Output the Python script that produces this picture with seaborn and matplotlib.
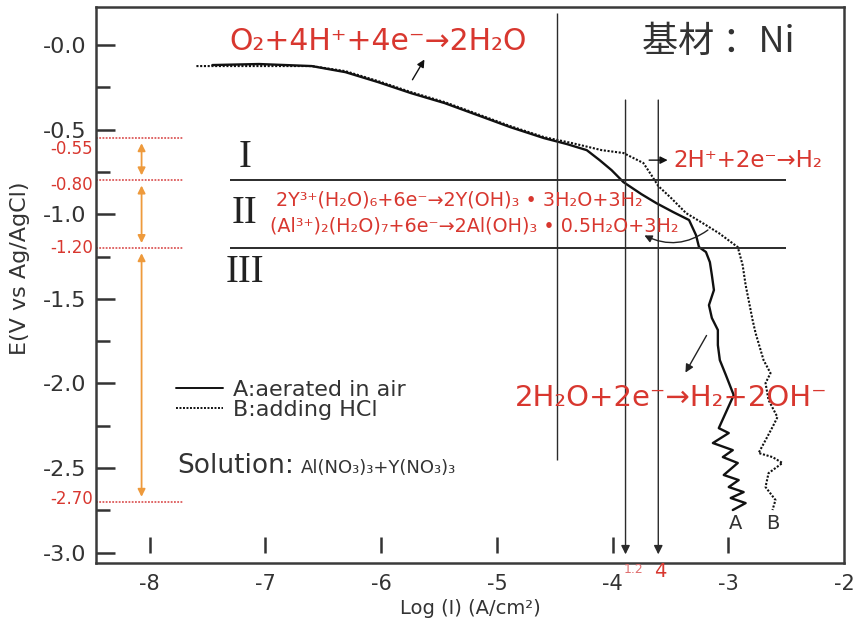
import matplotlib
matplotlib.use("Agg")
import matplotlib.pyplot as plt
import pandas as pd
import seaborn as sns

# Cathodic polarization curve A: aerated in air
a_log_i = [-7.459, -7.056, -6.601, -6.309, -6.026, -5.742, -5.451, -5.167, -4.884,
           -4.592, -4.395, -4.223, -4.112, -4.009, -3.906, -3.751, -3.622, -3.476,
           -3.339, -3.279, -3.253, -3.193, -3.159, -3.142, -3.124, -3.167, -3.142,
           -3.090, -3.090, -3.073, -3.021, -2.953, -3.082, -2.996, -3.133, -2.961,
           -3.047, -2.918, -3.039, -2.910, -2.996, -2.867, -2.979, -2.850, -2.961]
a_potential = [-0.118, -0.112, -0.124, -0.160, -0.219, -0.284, -0.343, -0.414, -0.485,
               -0.550, -0.585, -0.621, -0.680, -0.739, -0.810, -0.881, -0.934, -0.987,
               -1.034, -1.123, -1.194, -1.223, -1.283, -1.359, -1.448, -1.537, -1.613,
               -1.684, -1.773, -1.862, -1.950, -2.069, -2.264, -2.293, -2.352, -2.394,
               -2.435, -2.470, -2.541, -2.571, -2.612, -2.642, -2.677, -2.707, -2.748]

# Cathodic polarization curve B: after adding HCl
b_log_i = [-7.597, -7.227, -6.601, -6.309, -6.026, -5.742, -5.451, -5.167, -4.884,
           -4.592, -4.352, -4.094, -3.906, -3.734, -3.665, -3.605, -3.494, -3.365,
           -3.236, -3.082, -2.918, -2.876, -2.850, -2.824, -2.790, -2.764, -2.695,
           -2.635, -2.678, -2.652, -2.575, -2.618, -2.678, -2.738, -2.618, -2.532,
           -2.652, -2.678, -2.592, -2.618]
b_potential = [-0.124, -0.124, -0.124, -0.154, -0.213, -0.278, -0.337, -0.408, -0.479,
               -0.544, -0.579, -0.621, -0.638, -0.697, -0.768, -0.833, -0.904, -0.993,
               -1.046, -1.111, -1.194, -1.300, -1.418, -1.507, -1.625, -1.702, -1.862,
               -1.939, -1.998, -2.098, -2.199, -2.258, -2.335, -2.411, -2.435, -2.470,
               -2.530, -2.612, -2.689, -2.748]

x_ticks = [-8, -7, -6, -5, -4, -3, -2]
x_tick_labels = ["-8", "-7", "-6", "-5", "-4", "-3", "-2"]
y_ticks = [0.0, -0.5, -1.0, -1.5, -2.0, -2.5, -3.0]
y_tick_labels = ["-0.0", "-0.5", "-1.0", "-1.5", "-2.0", "-2.5", "-3.0"]
y_minor_ticks = [-0.25, -0.75, -1.25, -1.75, -2.25, -2.75]

# Potential boundaries of the three reduction stages
stage_bounds = [-0.55, -0.80, -1.20, -2.70]
stage_labels = ["-0.55", "-0.80", "-1.20", "-2.70"]
stage_label_nudge = [-8, -3, 0, 2]   # vertical text offsets in points
stage_names = ["I", "II", "III"]
stage_name_pos = [-0.662, -0.993, -1.342]

# Current density markers (log I)
ref_log_i = -4.481
marker_log_i = [-3.888, -3.605]
marker_labels = ["1.2", "4"]

RED = "#d8372f"
RED_DOT = "#dc5a5a"
ORANGE = "#ee9a3c"
INK = "#2b2b2b"

sns.set_style("white")
plt.rcParams["font.family"] = ["DejaVu Sans", "Noto Sans CJK SC"]

fig = plt.figure(figsize=(8.57, 6.32), dpi=100)
ax = fig.add_axes([0.1120, 0.1092, 0.8728, 0.8797])

df_a = pd.DataFrame({"logI": a_log_i, "E": a_potential})
df_b = pd.DataFrame({"logI": b_log_i, "E": b_potential})
sns.lineplot(data=df_a, x="logI", y="E", sort=False, estimator=None, color="#111111",
             lw=1.7, ax=ax, label="A:aerated in air")
sns.lineplot(data=df_b, x="logI", y="E", sort=False, estimator=None, color="#111111",
             lw=1.5, ls=(0, (1.0, 0.8)), ax=ax, label="B:adding HCl")

ax.set_xlim(-8.465, -2.025)
ax.set_ylim(-3.061, 0.225)

# Frame and ticks
for s in ax.spines.values():
    s.set_visible(True)
    s.set_color("#3a3a3a")
    s.set_linewidth(1.8)
ax.set_yticks(y_ticks)
ax.set_yticklabels(y_tick_labels, fontsize=16, color="#333333")
ax.set_yticks(y_minor_ticks, minor=True)
ax.tick_params(axis="y", which="major", direction="in", length=14, width=1.8,
               color="#333333", pad=7, left=True)
ax.tick_params(axis="y", which="minor", direction="in", length=10, width=1.8,
               color="#333333", left=True)
ax.set_xticks(x_ticks)
ax.set_xticklabels(x_tick_labels, fontsize=15, color="#333333")
ax.tick_params(axis="x", which="major", length=0, pad=8)
ax.vlines(x_ticks[:-1], -3.0, -2.905, colors="#333333", lw=1.8)

ax.set_xlabel("Log (I) (A/cm²)", fontsize=14, color="#333333")
ax.set_ylabel("E(V vs Ag/AgCl)", fontsize=16, color="#333333")
ax.xaxis.set_label_coords(0.5, -0.064)
ax.yaxis.set_label_coords(-0.088, 0.53)

# Stage boundaries on the left
ax.hlines(stage_bounds, -8.465, -7.717, colors=RED_DOT, lw=1.3, linestyles=(0, (1, 0.8)))
for yb, lab, dy in zip(stage_bounds, stage_labels, stage_label_nudge):
    ax.annotate(lab, xy=(-8.49, yb), xytext=(0, dy), textcoords="offset points",
                color=RED, fontsize=12, ha="right", va="center", annotation_clip=False)
for top, bot in zip(stage_bounds[:-1], stage_bounds[1:]):
    ax.annotate("", xy=(-8.071, bot + 0.03), xytext=(-8.071, top - 0.03),
                arrowprops=dict(arrowstyle="<|-|>", color=ORANGE, lw=1.3,
                                mutation_scale=11, shrinkA=0, shrinkB=0))

# Stage separators and numerals
ax.hlines(stage_bounds[1:3], -7.31, -2.498, colors=INK, lw=1.4)
for name, yn in zip(stage_names, stage_name_pos):
    ax.text(-7.18, yn, name, family="Liberation Serif", fontsize=28, color="#222222",
            ha="center", va="center")

# Reference current lines
ax.vlines(ref_log_i, -2.453, 0.189, colors=INK, lw=1.0)
for xm in marker_log_i:
    ax.annotate("", xy=(xm, -3.01), xytext=(xm, -0.325),
                arrowprops=dict(arrowstyle="-|>", color=INK, lw=1.0,
                                mutation_scale=13, shrinkA=0, shrinkB=0))
ax.text(marker_log_i[0] + 0.07, -3.10, marker_labels[0], color="#e07070", fontsize=9,
        ha="center", va="center")
ax.text(marker_log_i[1] + 0.02, -3.11, marker_labels[1], color=RED, fontsize=14,
        ha="center", va="center")

# Reaction annotations
ax.text(-7.31, 0.02, "O₂+4H⁺+4e⁻→2H₂O", color=RED, fontsize=21.5, ha="left", va="center")
ax.annotate("", xy=(-5.614, -0.071), xytext=(-5.742, -0.219),
            arrowprops=dict(arrowstyle="-|>", color="#111111", lw=1.0, mutation_scale=11))
ax.text(-3.09, 0.02, "基材 ：Ni", family=["Noto Sans CJK SC", "DejaVu Sans"], fontsize=26,
        color="#333333", ha="center", va="center")

ax.annotate("", xy=(-3.50, -0.68), xytext=(-3.708, -0.68),
            arrowprops=dict(arrowstyle="-|>", color="#111111", lw=1.0, mutation_scale=11))
ax.text(-3.476, -0.68, "2H⁺+2e⁻→H₂", color=RED, fontsize=16.5, ha="left", va="center")

ax.text(-6.91, -0.916, "2Y³⁺(H₂O)₆+6e⁻→2Y(OH)₃ • 3H₂O+3H₂", color=RED, fontsize=13.8,
        ha="left", va="center")
ax.text(-6.96, -1.07, "(Al³⁺)₂(H₂O)₇+6e⁻→2Al(OH)₃ • 0.5H₂O+3H₂", color=RED, fontsize=13.8,
        ha="left", va="center")
ax.annotate("", xy=(-3.725, -1.125), xytext=(-3.176, -1.093),
            arrowprops=dict(arrowstyle="-|>", color="#222222", lw=1.0, mutation_scale=11,
                            connectionstyle="arc3,rad=-0.3", shrinkA=0, shrinkB=0))

ax.annotate("", xy=(-3.382, -1.950), xytext=(-3.176, -1.702),
            arrowprops=dict(arrowstyle="-|>", color="#222222", lw=1.0, mutation_scale=12))
ax.text(-4.841, -2.086, "2H₂O+2e⁻→H₂+2OH⁻", color=RED, fontsize=21, ha="left", va="center")

ax.text(-2.936, -2.825, "A", fontsize=14, color="#333333", ha="center", va="center")
ax.text(-2.618, -2.825, "B", fontsize=14, color="#333333", ha="center", va="center")

# Legend and solution description
leg = ax.legend(loc="upper left", bbox_to_anchor=(0.107, 0.330), frameon=False,
                fontsize=16, handlelength=2.1, handletextpad=0.45, labelspacing=0.0,
                borderpad=0, borderaxespad=0)
for t in leg.get_texts():
    t.set_color("#333333")
for h in leg.get_lines():
    h.set_linewidth(1.4)
ax.text(-7.76, -2.530, "Solution:", fontsize=19, color="#333333", ha="left", va="baseline")
ax.text(-6.695, -2.530, "Al(NO₃)₃+Y(NO₃)₃", fontsize=13, color="#333333", ha="left",
        va="baseline")

fig.savefig("out.png", dpi=100)
